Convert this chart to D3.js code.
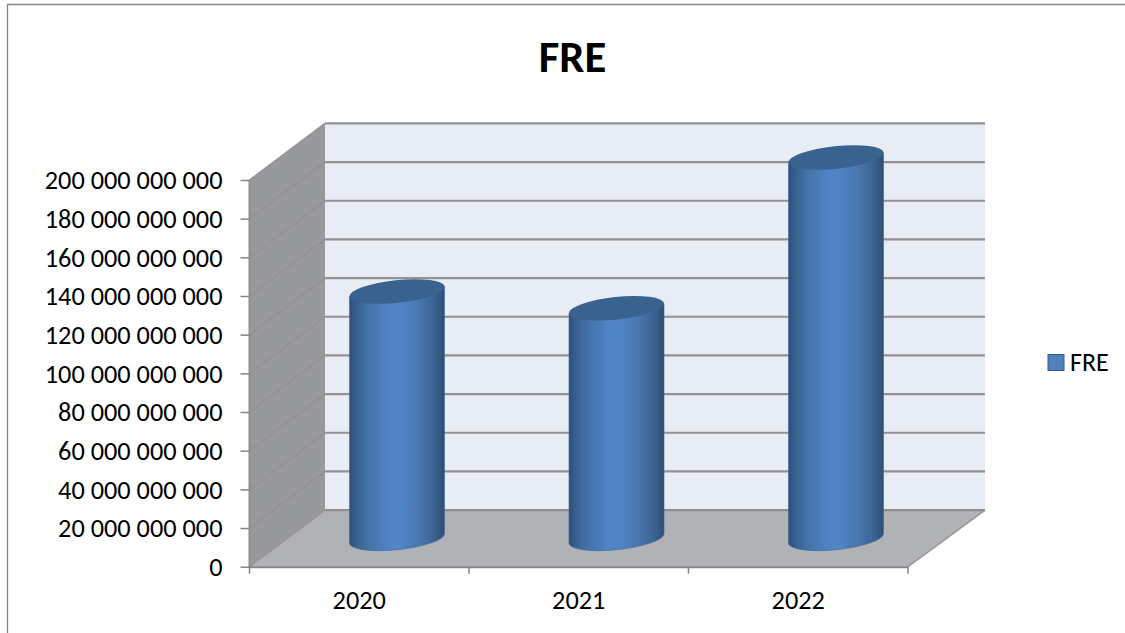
<!DOCTYPE html>
<html>
<head>
<meta charset="utf-8">
<script src="https://cdn.jsdelivr.net/npm/d3@7/dist/d3.min.js"></script>
<style>
html,body{margin:0;padding:0;background:#fff;overflow:hidden}
svg{display:block}
text{font-family:Carlito,Lato,"Open Sans",sans-serif;fill:#000}
</style>
</head>
<body>
<svg id="chart" width="1125" height="633"></svg>
<script>
const categories = ["2020", "2021", "2022"];
const seriesName = "FRE";
const seriesValues = [127.7e9, 119e9, 197e9];
const yTicks = [0, 20e9, 40e9, 60e9, 80e9, 100e9, 120e9, 140e9, 160e9, 180e9, 200e9];
const chartTitle = "FRE";

const svg = d3.select("#chart");
const x = d3.scaleBand().domain(categories).range([249.5, 908]);
const y = d3.scaleLinear().domain([0, 200e9]).range([566.7, 180]);
const depthX = 75.5, depthY = 56.6, backRightExtra = 1.5;
const fmt = v => d3.format(",")(v).replace(/,/g, " ");

const defs = svg.append("defs");
const grad = defs.append("linearGradient").attr("id", "cyl").attr("x1", 0).attr("x2", 1).attr("y1", 0).attr("y2", 0);
[[0, "#2e4f78"], [0.07, "#36608f"], [0.2, "#4472aa"], [0.42, "#5084c6"], [0.55, "#5084c6"], [0.75, "#4874ac"], [0.9, "#3b6290"], [1, "#2f4e75"]]
  .forEach(([o, c]) => grad.append("stop").attr("offset", o).attr("stop-color", c));

// frame
svg.append("path").attr("d", "M7.5,633V4.5H1125").attr("fill", "none").attr("stroke", "#868686").attr("stroke-width", 1.3);

const x0 = x.range()[0], x1 = x.range()[1];
const y0 = y(0), yTop = y(200e9);
const wallColor = "#98999d", backColor = "#e8ecf5", floorColor = "#b0b2b6", gridColor = "#929292";

// back wall
svg.append("rect").attr("x", x0 + depthX).attr("y", yTop - depthY)
  .attr("width", x1 + backRightExtra - x0).attr("height", y0 - yTop).attr("fill", backColor);
// side wall
svg.append("path").attr("fill", wallColor)
  .attr("d", d3.line()([[x0, y0], [x0, yTop], [x0 + depthX, yTop - depthY], [x0 + depthX, y0 - depthY]]));
// floor
svg.append("path").attr("fill", floorColor)
  .attr("d", d3.line()([[x0, y0], [x1, y0], [x1 + depthX + backRightExtra, y0 - depthY], [x0 + depthX, y0 - depthY]]));

// gridlines
const grid = svg.append("g").attr("fill", "none").attr("stroke", gridColor);
yTicks.forEach(t => {
  const py = y(t);
  grid.append("path").attr("stroke-width", t === 0 ? 1.5 : 1.4)
    .attr("stroke", t === 0 ? "#969696" : gridColor)
    .attr("d", d3.line()([[x0, py], [x0 + depthX, py - depthY]]));
  grid.append("path").attr("stroke-width", 2.2)
    .attr("stroke", t === 0 ? "#8f8f8f" : gridColor)
    .attr("d", d3.line()([[x0 + depthX, py - depthY], [x1 + depthX + backRightExtra, py - depthY]]));
});
// floor right edge
svg.append("path").attr("fill", "none").attr("stroke", "#969696").attr("stroke-width", 1.5)
  .attr("d", d3.line()([[x1, y0], [x1 + depthX + backRightExtra, y0 - depthY]]));
// side wall verticals
svg.append("path").attr("fill", "none").attr("stroke", "#8f8f8f").attr("stroke-width", 2)
  .attr("d", d3.line()([[x0, y0 + 1], [x0, yTop]]));

// axis lines
const axisColor = "#868686";
svg.append("path").attr("fill", "none").attr("stroke", axisColor).attr("stroke-width", 2)
  .attr("d", d3.line()([[x0, y0 + 0.5], [x1, y0 + 0.5]]));

// y axis
const yAxis = svg.append("g").attr("transform", `translate(${x0},0)`)
  .call(d3.axisLeft(y).tickValues(yTicks).tickFormat(fmt).tickSize(9).tickPadding(18));
yAxis.select(".domain").remove();
yAxis.selectAll("line").attr("stroke", axisColor).attr("stroke-width", 1.5);
yAxis.selectAll("text").attr("font-size", 26.3).attr("dy", "0.33em")
  .style("font-family", "Carlito,Lato,'Open Sans',sans-serif");

// x axis
const xAxis = svg.append("g").attr("transform", `translate(0,${y0})`)
  .call(d3.axisBottom(x).tickSize(0).tickPadding(24));
xAxis.select(".domain").remove();
xAxis.selectAll("line").remove();
xAxis.selectAll("text").attr("font-size", 26.3).style("font-family", "Carlito,Lato,'Open Sans',sans-serif");
[...categories.map(c => x(c)), x1].forEach(px => {
  svg.append("line").attr("x1", px).attr("x2", px).attr("y1", y0).attr("y2", y0 + 7)
    .attr("stroke", axisColor).attr("stroke-width", 1.5);
});

// cylinders
const a = 47.7, b = 11.3, tilt = -6, halfW = 47.5, tangent = 4.7;
const cyl = svg.append("g");
categories.forEach((c, i) => {
  const cx = x(c) + x.bandwidth() / 2 + depthX / 2;
  const by = y(0) - depthY / 2;
  const ty = y(seriesValues[i]) - depthY / 2;
  cyl.append("path").attr("fill", "url(#cyl)").attr("stroke", "#3a6496").attr("stroke-width", 0.6)
    .attr("d", `M${cx - halfW},${ty + tangent}L${cx - halfW},${by + tangent}` +
      `A${a},${b} ${tilt} 0 0 ${cx + halfW},${by - tangent}L${cx + halfW},${ty - tangent}Z`);
  cyl.append("ellipse").attr("cx", cx).attr("cy", ty).attr("rx", a).attr("ry", b)
    .attr("transform", `rotate(${tilt} ${cx} ${ty})`)
    .attr("fill", "#39628f");
});

// title
svg.append("text").attr("x", 572.5).attr("y", 71.5).attr("text-anchor", "middle")
  .attr("font-size", 44.7).attr("font-weight", 700).text(chartTitle);

// legend
svg.append("rect").attr("x", 1048).attr("y", 354.5).attr("width", 16).attr("height", 16)
  .attr("fill", "#4f81bd").attr("stroke", "#385d8a").attr("stroke-width", 1);
svg.append("text").attr("x", 1070).attr("y", 371).attr("font-size", 26).text(seriesName);
</script>
</body>
</html>
